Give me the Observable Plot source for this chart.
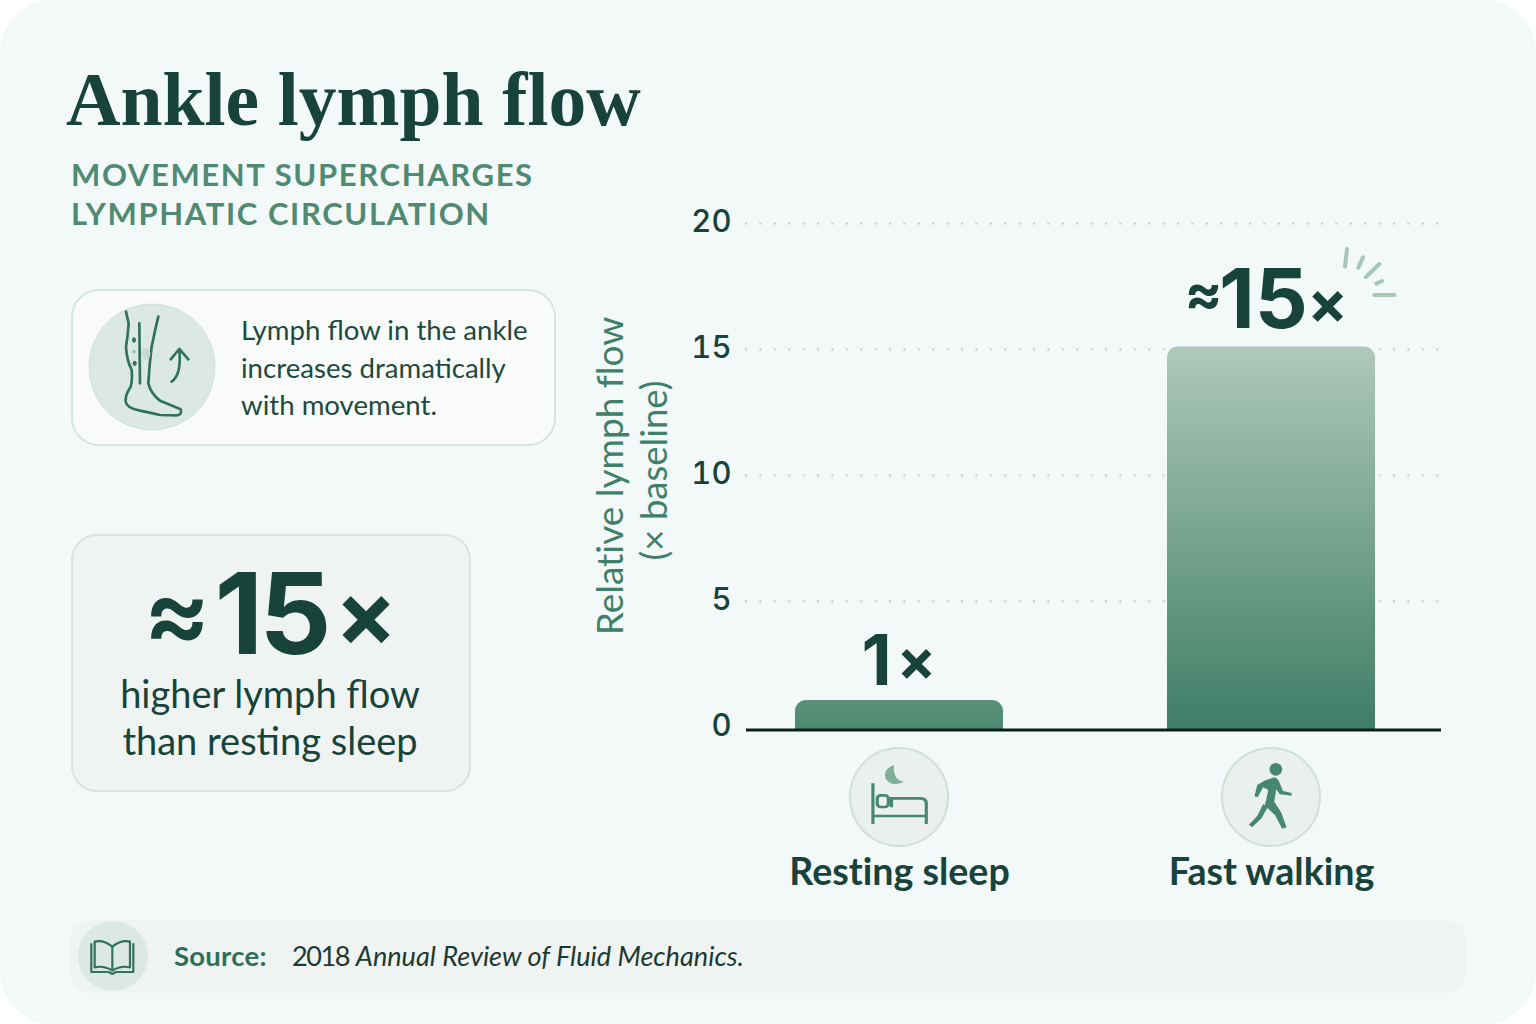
<!DOCTYPE html>
<html><head><meta charset="utf-8">
<script src="https://cdn.jsdelivr.net/npm/d3@7"></script>
<script src="https://cdn.jsdelivr.net/npm/@observablehq/plot@0.6"></script>
<style>
html,body{margin:0;padding:0;background:#fff;}
#card{position:relative;width:1536px;height:1024px;overflow:hidden;border-radius:52px;background:#f3f8f8;font-family:Lato,sans-serif;color:#17433a;font-variant-ligatures:none;}
#card text{font-variant-ligatures:none;}
#card>*{position:absolute;}
h1{margin:0;left:66px;top:56px;font:700 75.5px/88px "Liberation Serif",serif;color:#17433a;white-space:nowrap;}
.sub{left:71px;top:155px;font:700 31px/39px Lato,sans-serif;letter-spacing:1.62px;color:#4f8a72;white-space:nowrap;}
.box1{left:71px;top:289px;width:481px;height:153px;border:2px solid #d6e4de;border-radius:28px;background:#f8fbfa;}
.txt1{left:241px;top:311px;font:400 27.6px/37.5px Lato,sans-serif;color:#1e4a3e;white-space:nowrap;}
.box2{left:71px;top:534px;width:396px;height:254px;border:2px solid #d8e4df;border-radius:26px;background:#eff4f3;}
.txt2{left:71px;width:398px;top:670px;text-align:center;font:400 38px/47px Lato,sans-serif;color:#17433a;}
.big{left:71px;width:400px;top:540px;height:140px;}
.foot{left:70px;top:920px;width:1396px;height:73px;border-radius:22px;background:#eff4f3;}
.src{left:174px;top:940px;font:700 27.5px/32px Lato,sans-serif;letter-spacing:.25px;color:#2f6f58;white-space:nowrap;}
.cit{left:292px;top:940px;font:400 27.1px/32px Lato,sans-serif;color:#1c3a32;white-space:nowrap;}
.cit span{letter-spacing:-1.5px;}
#plot{left:0;top:0;}
#icons{left:0;top:0;pointer-events:none;}
g[aria-label="big15"] text{letter-spacing:-3px;}
g[aria-label="approx"] text{font-weight:600;}
</style></head>
<body>
<div id="card">
<h1>Ankle lymph flow</h1>
<div class="sub">MOVEMENT SUPERCHARGES<br>LYMPHATIC CIRCULATION</div>
<div class="box1"></div>
<div class="txt1">Lymph flow in the ankle<br>increases dramatically<br>with movement.</div>
<div class="box2"></div>
<svg class="big" viewBox="0 0 400 140" width="400" height="140" style="overflow:visible">
 <text x="106" y="108" text-anchor="middle" font-family="Inter" font-weight="600" font-size="100" fill="#17433a">≈</text>
 <text x="200" y="114" text-anchor="middle" font-family="Inter" font-weight="700" font-size="113" letter-spacing="-4" fill="#17433a">15</text>
 <text x="295" y="106" text-anchor="middle" font-family="Inter" font-weight="700" font-size="92" fill="#17433a">×</text>
</svg>
<div class="txt2">higher lymph flow<br>than resting sleep</div>
<div class="foot"></div>
<div class="src">Source:</div>
<div class="cit"><span>2018</span> <i>Annual Review of Fluid Mechanics.</i></div>
<svg id="icons" width="1536" height="1024" viewBox="0 0 1536 1024">
 <circle cx="152" cy="367" r="63" fill="#dce8e3" stroke="#d0e0d9" stroke-width="1"/>
 <g transform="translate(60,280) scale(.3333)" fill="none" stroke="#2f7159" stroke-width="8" stroke-linecap="round" stroke-linejoin="round">
  <path d="M198 95L206 130Q204 165 198 200Q200 240 215 270Q218 300 212 320Q195 345 197 365Q200 385 240 392Q270 398 300 405L352 406Q368 402 362 388Q340 378 300 362Q272 340 265 310Q268 255 275 200Q285 150 295 110"/>
  <path d="M238 130L240 310"/>
  <path d="M335 305Q365 285 358 210M332 238L358 207L385 238"/>
  <ellipse cx="222" cy="180" rx="6" ry="8" fill="#2f7159" stroke="none"/>
  <ellipse cx="222" cy="215" rx="5" ry="6" fill="#9dbfb0" stroke="none"/>
  <ellipse cx="224" cy="250" rx="6" ry="8" fill="#2f7159" stroke="none"/>
  <ellipse cx="258" cy="222" rx="13" ry="18" fill="#c6dad1" stroke="none"/>
 </g>
 <circle cx="899" cy="797" r="49" fill="#eaf0ed" stroke="#cfe0d8" stroke-width="2"/>
 <circle cx="1271" cy="797" r="49" fill="#eaf0ed" stroke="#cfe0d8" stroke-width="2"/>
 <g transform="translate(780,690) scale(.3954,.3333)" fill="none" stroke="#45876f" stroke-width="8">
  <path d="M235 280V402M235 378H372M370 402V340Q370 325 355 325H282V352"/>
  <rect x="246" y="316" width="28" height="35" rx="9"/>
  <path d="M288 225Q258 240 268 268Q282 292 314 276Q285 270 288 225Z" fill="#7fae9b" stroke="none"/>
 </g>
 <g transform="translate(780,690) scale(.3954,.3333)" fill="#45876f" stroke="none">
  <ellipse cx="1254" cy="238" rx="16" ry="19"/>
  <path d="M1225 272L1250 262Q1260 265 1264 280L1272 303L1294 309V317L1264 313L1255 298L1250 335L1268 368L1281 412L1270 416L1252 375L1226 347L1235 300L1222 292L1208 322L1200 319L1207 285Z"/>
  <path d="M1222 342L1233 352L1218 385L1194 412L1186 404L1207 378Z"/>
 </g>
 <circle cx="113" cy="956" r="35" fill="#dce8e3"/>
 <g transform="translate(60,910) scale(.3333)" fill="none" stroke="#2f7159" stroke-width="6.5" stroke-linejoin="round">
  <path d="M157 110Q130 88 104 95V172Q132 166 157 182Q182 166 210 172V95Q184 88 157 110ZM157 110V182"/>
  <path d="M94 100V186H146L157 192L168 186H220V100"/>
 </g>
 <g transform="translate(1160,230) scale(.3333)" fill="none" stroke="#a7c6b8" stroke-width="12" stroke-linecap="round">
  <path d="M561 57L555 110M609 82L595 113M658 102L618 141M666 153L649 161M703 195H643"/>
 </g>
</svg>
<div id="plot"></div>
</div>
<script>
const categories = ["Resting sleep", "Fast walking"];
const flowValues = [1.07, 15.1];
const valueNumbers = ["1", "15"];
const yTicks = [0, 5, 10, 15, 20];
const yTitle1 = "Relative lymph flow";
const yTitle2 = "(× baseline)";
const rows = categories.map((c, i) => ({category: c, flow: flowValues[i], number: valueNumbers[i]}));
const dark = "#17433a";
const gradients = () => {
  const defs = d3.create("svg:defs");
  const mk = (id, a, b) => {
    const g = defs.append("linearGradient").attr("id", id).attr("x1", 0).attr("x2", 0).attr("y1", 0).attr("y2", 1);
    g.append("stop").attr("offset", "0%").attr("stop-color", a);
    g.append("stop").attr("offset", "100%").attr("stop-color", b);
  };
  mk("tall", "#aec9ba", "#3f7d66");
  mk("short", "#5b917b", "#4d8a72");
  return defs.node();
};
const barOpts = {x: "category", y: "flow", rx1y1: 11, rx2y1: 11, insetBottom: -3};
const label = (data, text, size, dx, dy, aria) => Plot.text(data, {
  x: "category", y: "flow", text, fontSize: size, fontWeight: 700, fill: dark, dx, dy,
  fontFamily: "Inter", lineAnchor: "bottom", ariaLabel: aria
});
const chart = Plot.plot({
  width: 1536, height: 1024,
  marginLeft: 746, marginRight: 95, marginTop: 223, marginBottom: 297,
  style: {background: "transparent", maxWidth: "none", overflow: "visible"},
  x: {type: "band", domain: categories, paddingInner: .44, paddingOuter: .154, align: .426},
  y: {domain: [0, 20], ticks: yTicks},
  marks: [
    gradients,
    Plot.ruleY(yTicks.slice(1), {stroke: "#c6d7d0", strokeWidth: 2.5, strokeLinecap: "round", strokeDasharray: "0.1 14.3"}),
    Plot.barY([rows[0]], {...barOpts, fill: "url(#short)"}),
    Plot.barY([rows[1]], {...barOpts, fill: "url(#tall)"}),
    Plot.ruleY([0], {stroke: "#0c2019", strokeWidth: 3, dy: 2.5}),
    Plot.axisY({ticks: yTicks, tickSize: 0, tickPadding: 15, label: null, fontSize: 31, fontWeight: 500, fontFamily: "Inter", fill: dark, dy: -1}),
    Plot.axisX({tickSize: 0, tickPadding: 131, label: null, fontSize: 37.6, fontWeight: 700, fontFamily: "Lato", fill: dark}),
    label([rows[0]], "number", 70, -23, -16, "big1"),
    label([rows[0]], () => "×", 58, 17, -20, "x1"),
    label([rows[1]], "number", 83, -8, -19, "big15"),
    label([rows[1]], () => "≈", 56, -68, -34, "approx"),
    label([rows[1]], () => "×", 60, 56, -23, "x15"),
    Plot.text([9.98], {y: d => d, text: () => yTitle1, frameAnchor: "left", textAnchor: "middle", dx: -135, rotate: -90, fontSize: 37, fontFamily: "Lato", fill: "#3f8069"}),
    Plot.text([10.2], {y: d => d, text: () => yTitle2, frameAnchor: "left", textAnchor: "middle", dx: -91.5, rotate: -90, fontSize: 36.5, fontFamily: "Lato", fill: "#3f8069"})
  ]
});
document.getElementById("plot").append(chart);
</script>
</body></html>
